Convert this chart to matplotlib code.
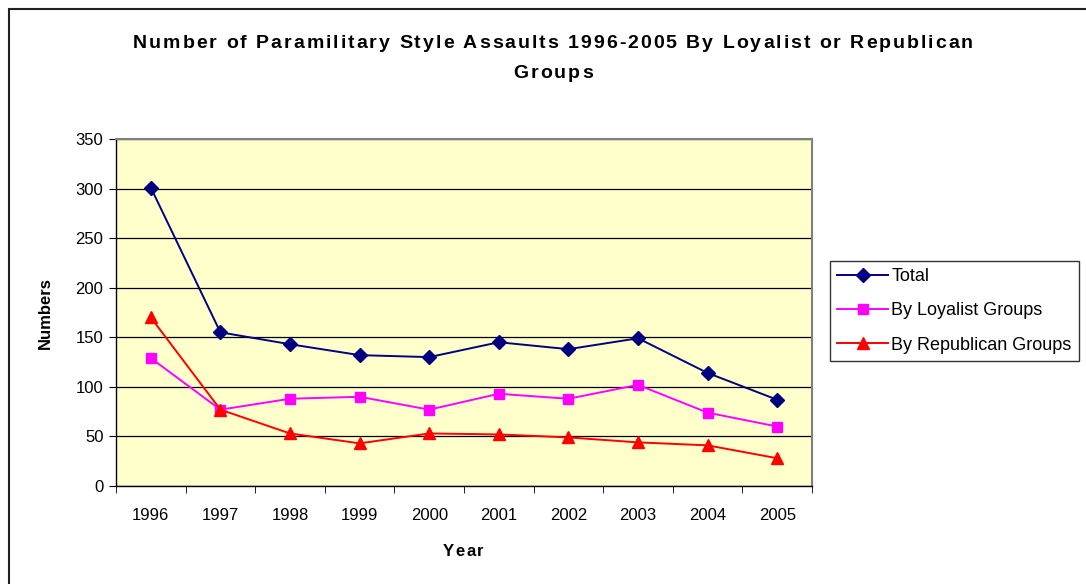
import matplotlib
matplotlib.use("Agg")
import matplotlib.pyplot as plt
from matplotlib.patches import Rectangle

plt.rcParams['font.family'] = ['Liberation Sans', 'DejaVu Sans']

years = ["1996", "1997", "1998", "1999", "2000", "2001", "2002", "2003", "2004", "2005"]
total = [301, 155, 143, 132, 130, 145, 138, 149, 114, 87]
loyalist = [129, 77, 88, 90, 77, 93, 88, 102, 74, 60]
republican = [170, 77, 53, 43, 53, 52, 49, 44, 41, 28]

title_lines = ["Number of Paramilitary Style Assaults 1996-2005 By Loyalist or Republican",
               "Groups"]

W, H = 1086, 584
fig = plt.figure(figsize=(W / 100, H / 100), dpi=100)
fig.patch.set_facecolor("white")
renderer = fig.canvas.get_renderer()


def spaced_text(xc, yc, s, tracking, **kw):
    """Draw a string centred at pixel (xc, yc) with extra space after each glyph."""
    widths = []
    for ch in s:
        t = fig.text(0, 0, ch if ch != " " else "a a", **kw)
        w = t.get_window_extent(renderer).width
        if ch == " ":
            wa = fig.text(0, 0, "aa", **kw)
            w = w - wa.get_window_extent(renderer).width
            wa.remove()
        t.remove()
        widths.append(w)
    total_w = sum(widths) + tracking * (len(s) - 1)
    x0 = xc - total_w / 2
    for ch, w in zip(s, widths):
        if ch != " ":
            fig.text(x0 / W, 1 - yc / H, ch, ha="left", va="center", **kw)
        x0 += w + tracking


# outer chart frame (open on the right and bottom)
fig.add_artist(Rectangle((8.5 / W, -0.05), 1.2, 1 - 8.5 / H + 0.05,
                         transform=fig.transFigure, fill=False,
                         edgecolor="#202020", linewidth=1.5))

L, R, T, B = 116, 812, 139, 486
ax = fig.add_axes([L / W, 1 - B / H, (R - L) / W, (B - T) / H])
ax.set_facecolor("#FFFFCC")

x = list(range(len(years)))
ax.plot(x, total, color="#000080", marker="D", markersize=7, linewidth=1.4, label="Total")
ax.plot(x, loyalist, color="#FF00FF", marker="s", markersize=7, linewidth=1.4, label="By Loyalist Groups")
ax.plot(x, republican, color="#FF0000", marker="^", markersize=9, linewidth=1.4, label="By Republican Groups")

ax.set_xlim(-0.5, len(years) - 0.5)
ax.set_ylim(0, 350)
ax.set_yticks(range(0, 351, 50))
ax.yaxis.grid(True, color="black", linewidth=0.9)
ax.set_axisbelow(True)

ax.set_xticks(x)
ax.set_xticklabels(years, fontsize=12)
ax.set_xticks([i - 0.5 for i in range(len(years) + 1)], minor=True)
ax.tick_params(axis="x", which="major", length=0, pad=16)
ax.tick_params(axis="x", which="minor", length=5, direction="out", color="black")
ax.tick_params(axis="y", length=5, direction="out", labelsize=12, pad=4)

for side in ["top", "right"]:
    ax.spines[side].set_color("#808080")
    ax.spines[side].set_linewidth(1.5)
for side in ["left", "bottom"]:
    ax.spines[side].set_color("black")
    ax.spines[side].set_linewidth(1.0)

tkw = dict(fontsize=14, fontweight="bold")
spaced_text(553, 43, title_lines[0], 2.0, **tkw)
spaced_text(553, 73, title_lines[1], 2.0, **tkw)

fig.text(45 / W, 1 - 313 / H, "Numbers", ha="center", va="center", rotation=90,
         fontsize=12, fontweight="bold")
spaced_text(463, 551, "Year", 1.5, fontsize=12, fontweight="bold")

leg = fig.legend(loc="upper left", bbox_to_anchor=(830 / W, 1 - 261 / H),
                 frameon=True, fancybox=False, fontsize=13, handlelength=2.8,
                 handletextpad=0.2, labelspacing=0.95, borderpad=0.4,
                 borderaxespad=0)
leg.get_frame().set_edgecolor("black")
leg.get_frame().set_linewidth(1.0)

fig.savefig("out.png", dpi=100, facecolor="white")
